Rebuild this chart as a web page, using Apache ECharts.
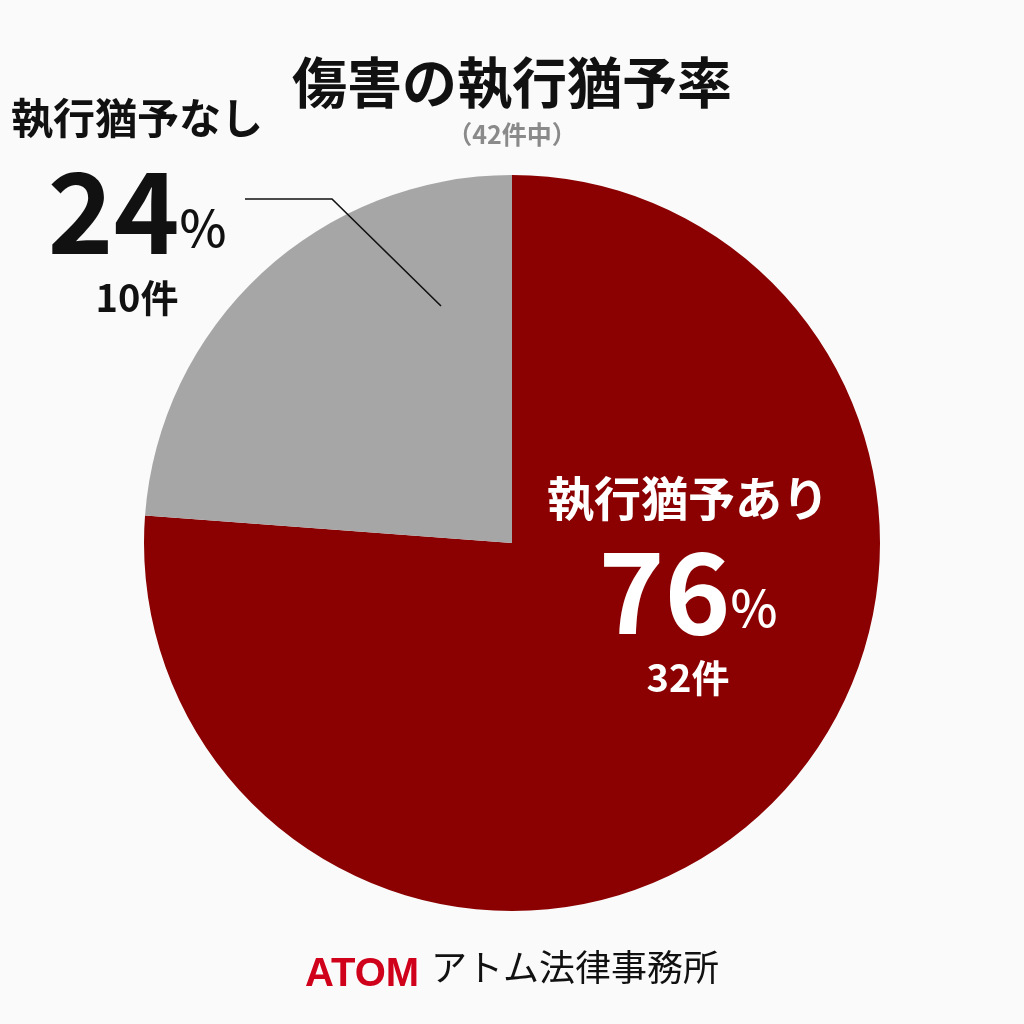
<!DOCTYPE html>
<html><head><meta charset="utf-8">
<script src="https://cdn.jsdelivr.net/npm/echarts@6/dist/echarts.min.js"></script>
<style>html,body{margin:0;padding:0;background:#fafafa}#c{width:1024px;height:1024px}</style>
</head><body><div id="c"></div>
<script>
const categories = ['執行猶予あり', '執行猶予なし'];
const counts = [32, 10];
const colors = ['#8b0000', '#a6a6a6'];
const titleText = '傷害の執行猶予率';
const subtitleText = '（42件中）';

const FONT = '"Noto Sans CJK JP", "Noto Sans", sans-serif';
const chart = echarts.init(document.getElementById('c'));

function richFor(color, nameSize) {
  return {
    name: {fontSize: nameSize, fontWeight: 'bold', color: color, fontFamily: FONT, lineHeight: 62},
    big: {fontSize: 112, fontWeight: 'bold', color: color, fontFamily: FONT, lineHeight: 118, verticalAlign: 'bottom'},
    pct: {fontSize: 50, fontWeight: 500, color: color, fontFamily: FONT, lineHeight: 118, verticalAlign: 'bottom', padding: [0,0,14,0]},
    cnt: {fontSize: 38, fontWeight: 'bold', color: color, fontFamily: FONT, lineHeight: 62}
  };
}

const labelPos = [
  {x: 688, y: 588},
  {x: 137, y: 208}
];

chart.setOption({
  backgroundColor: '#fafafa',
  animation: false,
  title: [
    {text: titleText, left: 'center', top: 50,
     textStyle: {fontSize: 55, fontWeight: 'bold', color: '#111', fontFamily: FONT}},
    {text: subtitleText, left: 'center', top: 117,
     textStyle: {fontSize: 25, fontWeight: 'bold', color: '#8a8a8a', fontFamily: FONT}}
  ],
  graphic: [
    {type: 'text', left: 305, top: 955,
     style: {text: 'ATOM', font: 'bold 40px "Liberation Sans", Arial, sans-serif', fill: '#d0021b'}},
    {type: 'text', left: 431, top: 949,
     style: {text: 'アトム法律事務所', font: '400 36px "Noto Sans CJK JP", sans-serif', fill: '#111'}},
    {type: 'polyline', z: 100, silent: true,
     shape: {points: [[245, 199], [332, 199], [441, 306]]},
     style: {stroke: '#111', lineWidth: 1.6, fill: null}}
  ],
  series: [{
    type: 'pie',
    center: [512, 543],
    radius: [0, 368],
    startAngle: 90,
    clockwise: true,
    silent: true,
    data: categories.map((n, i) => ({
      name: n, value: counts[i],
      itemStyle: {color: colors[i]},
      label: {
        show: true,
        position: i === 0 ? 'inside' : 'outside',
        overflow: 'none',
        rich: richFor(i === 0 ? '#ffffff' : '#111111', i === 0 ? 47 : 42)
      },
      labelLine: {show: false}
    })),
    label: {
      formatter: p => '{name|' + p.name + '}\n{big|' + Math.round(p.percent) + '}{pct|%}\n{cnt|' + p.value + '件}',
      align: 'center',
      overflow: 'none'
    },
    labelLayout: p => {
      const pos = labelPos[p.dataIndex];
      return {x: pos.x, y: pos.y, align: 'center', verticalAlign: 'middle', width: 400};
    }
  }]
});
</script></body></html>
